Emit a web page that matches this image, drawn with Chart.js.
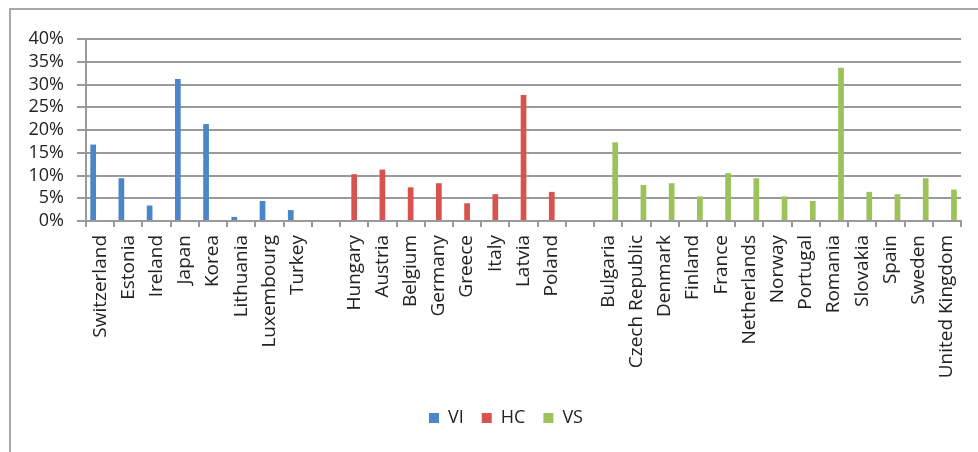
<!DOCTYPE html>
<html>
<head>
<meta charset="utf-8">
<script src="https://cdn.jsdelivr.net/npm/chart.js@4.4.1/dist/chart.umd.min.js"></script>
<style>
  html, body { margin: 0; padding: 0; background: #ffffff; }
  #wrap { width: 978px; height: 452px; position: relative; }
</style>
</head>
<body>
<div id="wrap"><canvas id="c" width="978" height="452"></canvas></div>
<script>
const categories = [
  'Switzerland', 'Estonia', 'Ireland', 'Japan', 'Korea', 'Lithuania', 'Luxembourg', 'Turkey',
  '',
  'Hungary', 'Austria', 'Belgium', 'Germany', 'Greece', 'Italy', 'Latvia', 'Poland',
  '',
  'Bulgaria', 'Czech Republic', 'Denmark', 'Finland', 'France', 'Netherlands', 'Norway', 'Portugal',
  'Romania', 'Slovakia', 'Spain', 'Sweden', 'United Kingdom'
];
const seriesNames = ['VI', 'HC', 'VS'];
const viValues = [16.8, 9.4, 3.4, 31.2, 21.3, 0.9, 4.4, 2.4,
  null,
  null, null, null, null, null, null, null, null,
  null,
  null, null, null, null, null, null, null, null, null, null, null, null, null];
const hcValues = [null, null, null, null, null, null, null, null,
  null,
  10.3, 11.3, 7.4, 8.3, 3.9, 5.9, 27.7, 6.4,
  null,
  null, null, null, null, null, null, null, null, null, null, null, null, null];
const vsValues = [null, null, null, null, null, null, null, null,
  null,
  null, null, null, null, null, null, null, null,
  null,
  17.3, 7.9, 8.3, 5.4, 10.5, 9.4, 5.4, 4.4, 33.7, 6.4, 5.9, 9.4, 6.9];
const yTicks = [0, 5, 10, 15, 20, 25, 30, 35, 40];

const GRID = '#9a9a9a';
const FONT = "'Open Sans', 'DejaVu Sans', sans-serif";

const framePlugin = {
  id: 'frame',
  afterLayout(chart) {
    const lg = chart.legend;
    if (lg) { lg.left += 19; lg.right += 19; }
  },
  beforeDraw(chart) {
    const ctx = chart.ctx;
    ctx.save();
    ctx.fillStyle = '#ffffff';
    ctx.fillRect(0, 0, chart.width, chart.height);
    ctx.strokeStyle = '#a8a8a8';
    ctx.lineWidth = 2;
    ctx.beginPath();
    ctx.moveTo(10, chart.height);
    ctx.lineTo(10, 9);
    ctx.lineTo(chart.width, 9);
    ctx.stroke();
    ctx.restore();
  }
};

new Chart(document.getElementById('c'), {
  type: 'bar',
  data: {
    labels: categories,
    datasets: [
      { label: seriesNames[0], data: viValues, backgroundColor: '#4a86c8' },
      { label: seriesNames[1], data: hcValues, backgroundColor: '#d9534e' },
      { label: seriesNames[2], data: vsValues, backgroundColor: '#9bc35a' }
    ]
  },
  options: {
    responsive: false,
    animation: false,
    devicePixelRatio: 1,
    categoryPercentage: 0.74,
    barPercentage: 0.82,
    layout: { padding: { left: 10, right: 14, top: 39, bottom: 15 } },
    plugins: {
      legend: {
        position: 'bottom',
        labels: {
          boxWidth: 10,
          boxHeight: 10,
          padding: 18,
          color: '#222',
          font: { family: FONT, size: 18 }
        }
      },
      tooltip: { enabled: false }
    },
    scales: {
      x: {
        afterFit(scale) { scale.height = 170; },
        grid: {
          display: true,
          drawOnChartArea: false,
          drawTicks: true,
          tickLength: 6,
          color: GRID,
          lineWidth: 2,
          offset: true
        },
        border: { display: true, color: GRID, width: 2 },
        ticks: {
          autoSkip: false,
          minRotation: 90,
          maxRotation: 90,
          padding: 8,
          color: '#222',
          font: { family: FONT, size: 19 }
        }
      },
      y: {
        min: yTicks[0],
        max: yTicks[yTicks.length - 1],
        afterFit(scale) { scale.width = 76; },
        grid: {
          color: GRID,
          lineWidth: 2,
          tickLength: 9,
          drawTicks: true
        },
        border: { display: true, color: GRID, width: 2 },
        ticks: {
          stepSize: yTicks[1] - yTicks[0],
          autoSkip: false,
          padding: 13,
          color: '#222',
          font: { family: FONT, size: 18 },
          callback: v => v + '%'
        }
      }
    }
  },
  plugins: [framePlugin]
});
</script>
</body>
</html>
